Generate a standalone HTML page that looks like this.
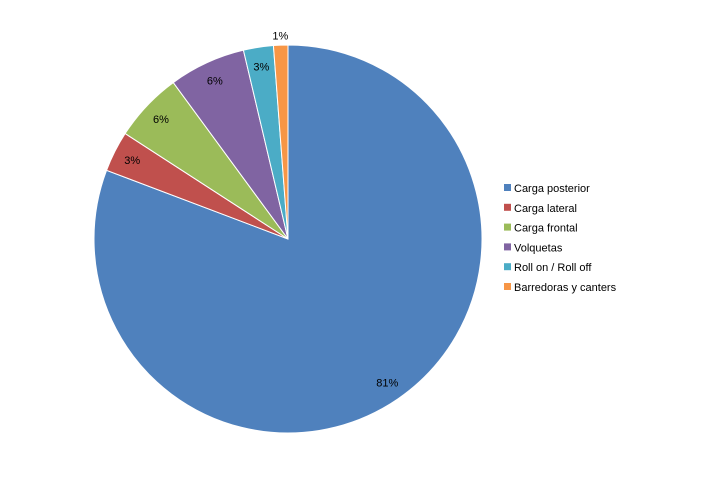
<!DOCTYPE html>
<html><head><meta charset="utf-8"><style>
body{margin:0;background:#fff;}
svg text{font-family:"Liberation Sans",Arial,sans-serif;font-size:11px;fill:#000;}
</style></head><body>
<svg width="718" height="478" id="chart">
<rect width="718" height="478" fill="#fff"/>
<g id="slices"></g><g id="labels"></g><g id="legend"></g>
</svg>
<script>
const categories=["Carga posterior","Carga lateral","Carga frontal","Volquetas","Roll on / Roll off","Barredoras y canters"];
const values=[81.0,3.4,5.8,6.4,2.5,1.2];
const labels=["81%","3%","6%","6%","3%","1%"];
const colors=["#4F81BD","#C0504D","#9BBB59","#8064A2","#4BACC6","#F79646"];
const cx=288,cy=239,r=194;
const NS="http://www.w3.org/2000/svg";
const total=values.reduce((a,b)=>a+b,0);
const sG=document.getElementById('slices'),lG=document.getElementById('labels'),gG=document.getElementById('legend');
function pt(a,rr){return [cx+rr*Math.sin(a),cy-rr*Math.cos(a)];}
let acc=0;
values.forEach((v,i)=>{
  const a0=acc/total*2*Math.PI;acc+=v;const a1=acc/total*2*Math.PI;
  const p0=pt(a0,r),p1=pt(a1,r);
  const p=document.createElementNS(NS,'path');
  p.setAttribute('d',`M${cx},${cy}L${p0[0]},${p0[1]}A${r},${r} 0 ${a1-a0>Math.PI?1:0} 1 ${p1[0]},${p1[1]}Z`);
  p.setAttribute('fill',colors[i]);p.setAttribute('stroke','#fff');p.setAttribute('stroke-width','1');
  
  
  sG.appendChild(p);
  const am=(a0+a1)/2;const frac=v/total<0.02?1.05:0.9;
  const lp=pt(am,r*frac);
  const t=document.createElementNS(NS,'text');
  t.setAttribute('x',lp[0]);t.setAttribute('y',lp[1]+4);t.setAttribute('text-anchor','middle');
  t.textContent=labels[i];
  
  
  lG.appendChild(t);
  const y=188+i*19.8;
  const sq=document.createElementNS(NS,'rect');
  sq.setAttribute('x',504);sq.setAttribute('y',y-4);sq.setAttribute('width',7);sq.setAttribute('height',7);sq.setAttribute('fill',colors[i]);
  
  
  gG.appendChild(sq);
  const lt=document.createElementNS(NS,'text');
  lt.setAttribute('x',514);lt.setAttribute('y',y+4);lt.textContent=categories[i];
  
  
  gG.appendChild(lt);
});
</script>
</body></html>
